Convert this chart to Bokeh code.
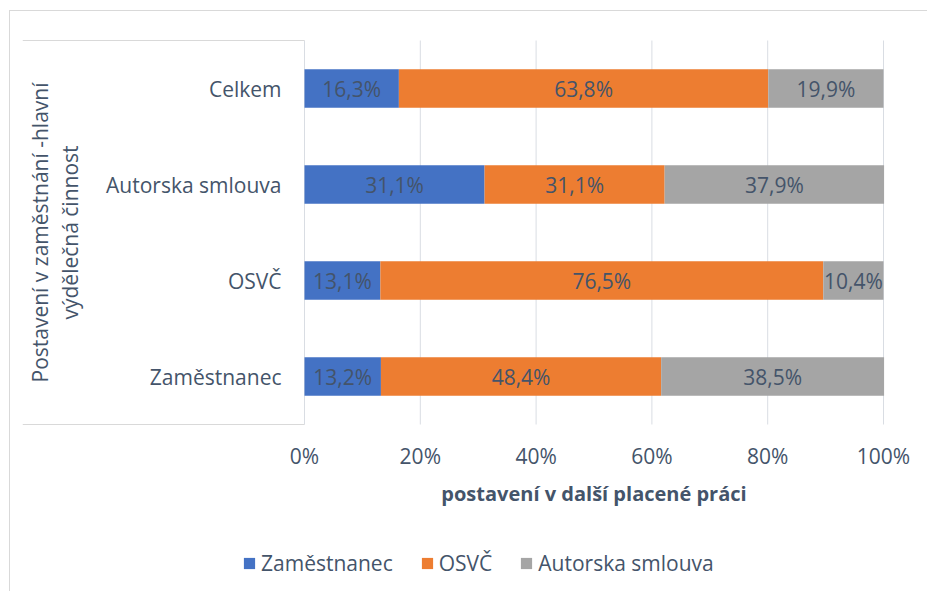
import math
from bokeh.plotting import figure
from bokeh.models import ColumnDataSource, Range1d
from bokeh.core.properties import value
from bokeh.embed import file_html
from bokeh.resources import INLINE

# ---- data (bottom to top) ----
categories = ["Zaměstnanec", "OSVČ", "Autorska smlouva", "Celkem"]
zamestnanec = [13.2, 13.1, 31.1, 16.3]
osvc = [48.4, 76.5, 31.1, 63.8]
autorska = [38.5, 10.4, 37.9, 19.9]
series_names = ["Zaměstnanec", "OSVČ", "Autorska smlouva"]
series_colors = ["#4472C4", "#ED7D31", "#A5A5A5"]
x_ticks = [0, 20, 40, 60, 80, 100]
x_tick_labels = ["0%", "20%", "40%", "60%", "80%", "100%"]
x_title = "postavení v další placené práci"
y_title_lines = ["Postavení v zaměstnání -hlavní", "výdělečná činnost"]

TEXT = "#44546A"
GRID = "#D9DDE3"
BOX = "#D9D9D9"
FONT = "Open Sans"

W, H = 927, 591
frame_left = 22      # left edge of category box
zero_px = 304        # 0 %
hundred_px = 883     # 100 %
top_px = 40          # top of category area
bottom_px = 424      # bottom of category area
scale = (hundred_px - zero_px) / 100.0
x_start = -(zero_px - frame_left) / scale
x_end = 100 + (W - hundred_px) / scale
n = len(categories)
unit = (bottom_px - top_px) / n           # px per category
y_end = n + 1.0 / unit
y_start = -(H - bottom_px) / unit


def ypx(py):
    """page pixel row -> data y"""
    return (bottom_px - py) / unit


p = figure(width=W, height=H, x_range=Range1d(x_start, x_end),
           y_range=Range1d(y_start, y_end), output_backend="svg",
           toolbar_location=None, x_axis_location=None, y_axis_location=None,
           min_border_left=frame_left, min_border_right=0,
           min_border_top=top_px - 1, min_border_bottom=0)
p.outline_line_color = None
p.border_fill_color = None
p.background_fill_color = None
p.xgrid.grid_line_color = None
p.ygrid.grid_line_color = None
p.styles = {
    "background": (
        "linear-gradient(%s,%s) 9px 10px / 100%% 1px no-repeat, "
        "linear-gradient(%s,%s) 9px 10px / 1px 100%% no-repeat"
    ) % (BOX, BOX, BOX, BOX)
}

# vertical gridlines
p.segment(x0=x_ticks, y0=[0] * len(x_ticks), x1=x_ticks, y1=[n] * len(x_ticks),
          line_color=GRID, line_width=1)
# category box lines
p.segment(x0=[x_start, x_start], y0=[0, n], x1=[0, 0], y1=[0, n],
          line_color=BOX, line_width=1)

ys = [i + 0.5 for i in range(n)]
src = ColumnDataSource(dict(y=ys, z=zamestnanec, o=osvc, a=autorska))
p.hbar_stack(["z", "o", "a"], y="y", height=0.4, color=series_colors,
             source=src, legend_label=series_names, line_width=0)

# bar value labels
lx, ly, lt = [], [], []
for i in range(n):
    left = 0.0
    for vals in (zamestnanec, osvc, autorska):
        v = vals[i]
        lx.append(left + v / 2.0)
        ly.append(ys[i])
        lt.append(("%.1f" % v).replace(".", ",") + "%")
        left += v
p.text(x=lx, y=ly, text=lt, text_align="center", text_baseline="middle",
       text_font=value(FONT), text_font_size="21px", text_color=TEXT)

# category labels
cat_x = -23 / scale
p.text(x=[cat_x] * n, y=ys, text=categories, text_align="right",
       text_baseline="middle", text_font=value(FONT), text_font_size="21px",
       text_color=TEXT)

# y title (two rotated lines)
p.text(x=[(39 - zero_px) / scale, (69 - zero_px) / scale], y=[n / 2.0, n / 2.0],
       text=y_title_lines, angle=math.pi / 2, text_align="center",
       text_baseline="middle", text_font=value(FONT), text_font_size="21px",
       text_color=TEXT)

# x tick labels and x title
p.text(x=x_ticks, y=[ypx(455)] * len(x_ticks), text=x_tick_labels,
       text_align="center", text_baseline="middle", text_font=value(FONT),
       text_font_size="21px", text_color=TEXT)
p.text(x=[50], y=[ypx(493)], text=[x_title], text_align="center",
       text_baseline="middle", text_font=value(FONT), text_font_size="20px",
       text_font_style="bold", text_color=TEXT)

lg = p.legend[0]
lg.orientation = "horizontal"
lg.location = (242 - frame_left, 14)
lg.glyph_width = 14
lg.glyph_height = 14
lg.label_standoff = 5
lg.spacing = 27
lg.padding = 0
lg.margin = 0
lg.border_line_color = None
lg.background_fill_alpha = 0
lg.label_text_font = FONT
lg.label_text_font_size = "21px"
lg.label_text_color = TEXT

open("out.html", "w").write(file_html(p, INLINE))
